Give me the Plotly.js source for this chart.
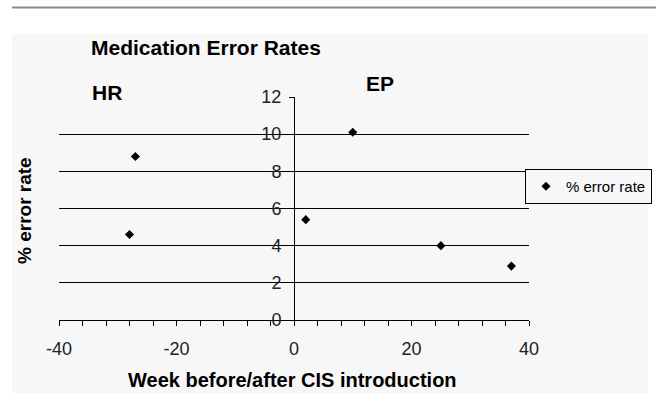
<!DOCTYPE html>
<html>
<head>
<meta charset="utf-8">
<script src="https://cdn.plot.ly/plotly-3.0.1.min.js"></script>
<style>html,body{margin:0;padding:0;background:#fff;overflow:hidden;}#chart{width:656px;height:400px;}</style>
</head>
<body>
<div id="chart"></div>
<script>
// ---- data ----
const weeks = [-28, -27, 2, 10, 25, 37];
const rates = [4.6, 8.8, 5.4, 10.1, 4.0, 2.9];
const seriesName = "% error rate";
const xTickVals = [-40, -20, 0, 20, 40];
const xTickText = ["-40", "-20", "0", "20", "40"];
const yTickVals = [0, 2, 4, 6, 8, 10, 12];
const yTickText = ["0", "2", "4", "6", "8", "10", "12"];
const chartTitle = "Medication Error Rates";
const xTitle = "Week before/after CIS introduction";
const yTitle = "% error rate";
const groupLabels = ["HR", "EP"];

// ---- layout geometry ----
const W = 656, H = 400;
const M = {l: 59, r: 127, t: 97, b: 80, autoexpand: false};
const PW = W - M.l - M.r, PH = H - M.t - M.b;
const px = x => (x - M.l) / PW;          // canvas px -> paper x
const py = y => (H - M.b - y) / PH;      // canvas px -> paper y

const FONT = "Liberation Sans, Arial, sans-serif";
const BG = "#f7f7f7";

const trace = {
  type: "scatter", mode: "markers", name: seriesName,
  x: weeks, y: rates,
  marker: {symbol: "diamond", size: 7, color: "#000"},
  showlegend: true, cliponaxis: false
};

const layout = {
  width: W, height: H,
  margin: M,
  paper_bgcolor: "#fff",
  plot_bgcolor: "rgba(0,0,0,0)",
  font: {family: FONT, color: "#000"},
  title: {
    text: chartTitle, xref: "container", yref: "container",
    x: 91 / W, xanchor: "left", y: 1 - 47.5 / H, yanchor: "middle",
    font: {family: FONT, size: 21, color: "#000", weight: "bold"}
  },
  xaxis: {
    range: [-40, 40], showgrid: false, zeroline: false,
    showline: true, linecolor: "#000", linewidth: 1,
    tickmode: "array", tickvals: xTickVals, ticktext: xTickText,
    ticks: "outside", ticklen: 5, tickcolor: "#000", tickwidth: 1,
    ticklabelstandoff: 7,
    minor: {dtick: 4, tick0: 0, ticks: "outside", ticklen: 5, tickcolor: "#000", tickwidth: 1, showgrid: false},
    tickfont: {family: FONT, size: 18, color: "#222"},
    fixedrange: true
  },
  yaxis: {
    range: [0, 12], anchor: "free", position: 0.5,
    showgrid: true, gridcolor: "#000", gridwidth: 1, zeroline: false,
    showline: true, linecolor: "#000", linewidth: 1,
    tickmode: "array", tickvals: yTickVals, ticktext: yTickText,
    ticks: "outside", ticklen: 5, tickcolor: "#000", tickwidth: 1,
    ticklabelstandoff: 4,
    tickfont: {family: FONT, size: 18, color: "#222"},
    fixedrange: true
  },
  legend: {
    xref: "container", yref: "container",
    x: 652 / W, xanchor: "right", y: 1 - 169 / H, yanchor: "top",
    bgcolor: BG, bordercolor: "#000", borderwidth: 1,
    font: {family: FONT, size: 15, color: "#000"}
  },
  shapes: [
    {type: "rect", xref: "paper", yref: "paper", layer: "below",
     x0: px(12), x1: px(648), y0: py(393), y1: py(34),
     fillcolor: BG, line: {width: 0}},
    {type: "line", xref: "paper", yref: "paper", layer: "below",
     x0: px(12), x1: px(656), y0: py(7.5), y1: py(7.5),
     line: {color: "#8a8a8a", width: 2}}
  ],
  annotations: [
    {text: groupLabels[0], xref: "paper", yref: "paper", x: px(90), y: py(92.5),
     xanchor: "left", yanchor: "middle", showarrow: false,
     font: {family: FONT, size: 21, color: "#000", weight: "bold"}},
    {text: groupLabels[1], xref: "paper", yref: "paper", x: px(364), y: py(83),
     xanchor: "left", yanchor: "middle", showarrow: false,
     font: {family: FONT, size: 21, color: "#000", weight: "bold"}},
    {text: yTitle, xref: "paper", yref: "paper", x: px(24), y: py(211),
     xanchor: "center", yanchor: "middle", textangle: -90, showarrow: false,
     font: {family: FONT, size: 19, color: "#000", weight: "bold"}},
    {text: xTitle, xref: "paper", yref: "paper", x: px(292), y: py(380),
     xanchor: "center", yanchor: "middle", showarrow: false,
     font: {family: FONT, size: 20, color: "#000", weight: "bold"}}
  ]
};

Plotly.newPlot("chart", [trace], layout, {staticPlot: true, displayModeBar: false});
</script>
</body>
</html>
